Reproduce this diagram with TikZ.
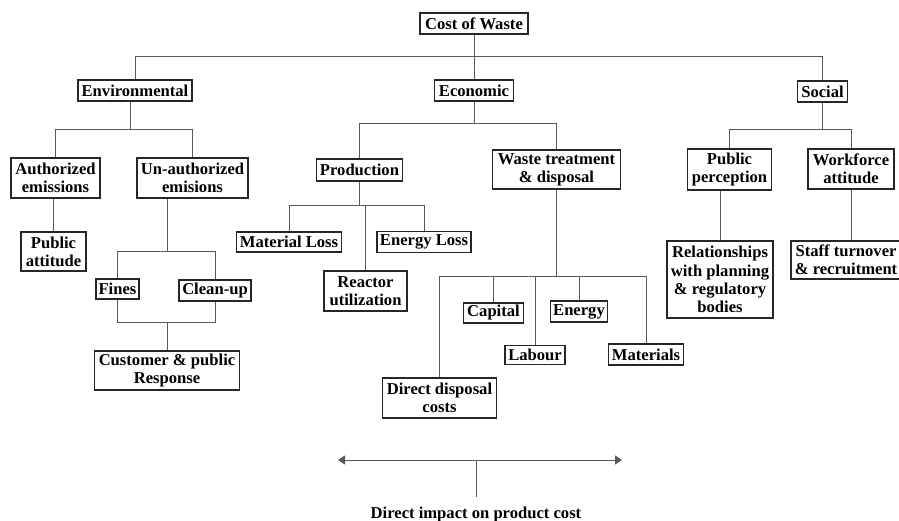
\documentclass[tikz,border=0pt]{standalone}
\usepackage{fontspec}
\setmainfont{Liberation Serif}
\usetikzlibrary{arrows.meta}
\begin{document}
\begin{tikzpicture}[x=1pt,y=-1pt,
  box/.style={draw=black!85, line width=1.1pt, inner sep=0pt, align=center, fill=white,
    font=\fontsize{16.6}{18.3}\selectfont\bfseries},
  conn/.style={draw=black!65, line width=1pt},
  lbl/.style={font=\fontsize{16.6}{18.3}\selectfont\bfseries}
]
\useasboundingbox (0,0) rectangle (899,521);
\fill[white] (0,0) rectangle (899,521);

% level 0/1
\node[box, minimum width=108pt, minimum height=21pt] (cow) at (474,23.5) {Cost of Waste};
\node[box, minimum width=114pt, minimum height=21pt] (env) at (135,90.5) {Environmental};
\node[box, minimum width=79pt, minimum height=21pt] (eco) at (474,90.5) {Economic};
\node[box, minimum width=50pt, minimum height=21pt] (soc) at (822.5,91.5) {Social};

% environmental
\node[box, minimum width=89pt, minimum height=40pt] (auth) at (55.5,178) {Authorized\\emissions};
\node[box, minimum width=111pt, minimum height=40pt] (unauth) at (192.5,178) {Un-authorized\\emisions};
\node[box, minimum width=65pt, minimum height=39pt] (pubatt) at (53.5,251.5) {Public\\attitude};
\node[box, minimum width=43pt, minimum height=20pt] (fines) at (117.5,289) {Fines};
\node[box, minimum width=72pt, minimum height=21pt] (cleanup) at (215,290.5) {Clean-up};
\node[box, minimum width=145pt, minimum height=39pt] (cust) at (167,370.5) {Customer \& public\\Response};

% economic
\node[box, minimum width=86pt, minimum height=22pt] (prod) at (359.5,170) {Production};
\node[box, minimum width=105pt, minimum height=20pt] (matloss) at (289,242) {Material Loss};
\node[box, minimum width=94pt, minimum height=21pt] (enloss) at (424,242) {Energy Loss};
\node[box, minimum width=83pt, minimum height=40pt] (reactor) at (365.5,291) {Reactor\\utilization};
\node[box, minimum width=128pt, minimum height=39pt] (waste) at (556.5,169.5) {Waste treatment\\\& disposal};
\node[box, minimum width=60pt, minimum height=20pt] (capital) at (493.5,313) {Capital};
\node[box, minimum width=57pt, minimum height=21pt] (energy) at (579,311.5) {Energy};
\node[box, minimum width=60pt, minimum height=19pt] (labour) at (535,355) {Labour};
\node[box, minimum width=75pt, minimum height=21pt] (materials) at (646,354.5) {Materials};
\node[box, minimum width=114pt, minimum height=40pt] (direct) at (439.5,398) {Direct disposal\\costs};

% social
\node[box, minimum width=84pt, minimum height=41pt] (pubperc) at (729.5,169.5) {Public\\perception};
\node[box, minimum width=86pt, minimum height=40pt] (workf) at (851,169) {Workforce\\attitude};
\node[box, minimum width=106pt, minimum height=77pt] (rel) at (720,279.5) {Relationships\\with planning\\\& regulatory\\bodies};
\node[box, minimum width=110pt, minimum height=38pt] (staff) at (846,260) {Staff turnover\\\& recruitment};

% bus levels
\coordinate (y1) at (0,57);
\coordinate (e1) at (130,130);
\coordinate (u1) at (167,252);
\coordinate (u2) at (0,322);
\coordinate (c1) at (0,124);
\coordinate (p1) at (0,206);
\coordinate (w1) at (0,277);
\coordinate (s1) at (0,129.5);

% top
\draw[conn] (cow.south) -- (eco.north);
\draw[conn] (env.north) |- (soc.north |- y1) -- (soc.north);

% environmental
\draw[conn] (e1 |- env.south) -- (e1);
\draw[conn] (auth.north) |- (unauth.north |- e1) -- (unauth.north);
\draw[conn] (pubatt.north |- auth.south) -- (pubatt.north);
\draw[conn] (u1 |- unauth.south) -- (u1);
\draw[conn] (fines.north) |- (cleanup.north |- u1) -- (cleanup.north);
\draw[conn] (fines.south) |- (cleanup.south |- u2) -- (cleanup.south);
\draw[conn] (cust.north) -- (cust.north |- u2);

% economic
\draw[conn] (eco.south) -- (eco.south |- c1);
\draw[conn] (prod.north) |- (waste.north |- c1) -- (waste.north);
\draw[conn] (prod.south) -- (prod.south |- p1);
\draw[conn] (matloss.north) |- (enloss.north |- p1) -- (enloss.north);
\draw[conn] (reactor.north |- p1) -- (reactor.north);
\draw[conn] (waste.south) -- (waste.south |- w1);
\draw[conn] (direct.north) |- (materials.north |- w1) -- (materials.north);
\draw[conn] (capital.north |- w1) -- (capital.north);
\draw[conn] (labour.north |- w1) -- (labour.north);
\draw[conn] (energy.north |- w1) -- (energy.north);

% social
\draw[conn] (soc.south) -- (soc.south |- s1);
\draw[conn] (pubperc.north) |- (workf.north |- s1) -- (workf.north);
\draw[conn] (rel.north) -- (rel.north |- pubperc.south);
\draw[conn] (workf.south) -- (workf.south |- staff.north);

% bottom arrow
\coordinate (al) at (338,460);
\coordinate (ar) at (622,460);
\node[lbl, inner xsep=0pt, inner ysep=9.5pt, anchor=base] (imp) at (476,518) {Direct impact on product cost};
\draw[conn, {Triangle[length=7pt,width=9pt]}-{Triangle[length=7pt,width=9pt]}] (al) -- (ar);
\draw[conn] (imp.north |- al) -- (imp.north);
\end{tikzpicture}
\end{document}
